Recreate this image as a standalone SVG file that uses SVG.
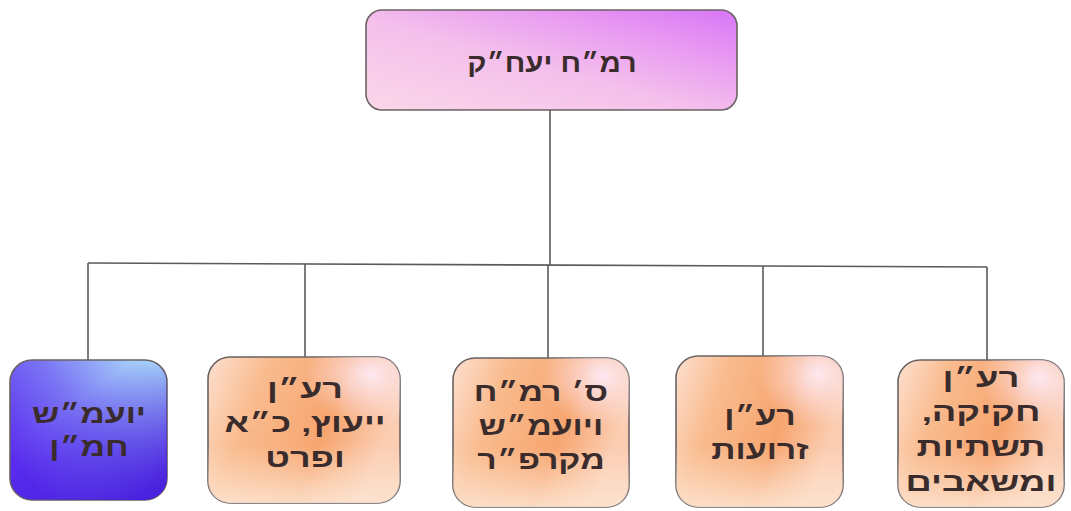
<svg xmlns="http://www.w3.org/2000/svg" width="1071" height="511" viewBox="0 0 1071 511">
<style>
.box{stroke:#6a6262;stroke-width:1.6}
.ov{stroke:none}
.t{font-family:"Liberation Sans","DejaVu Sans",sans-serif;font-size:26px;font-weight:bold;fill:#3a2c2c;text-anchor:middle;direction:rtl}
.c{stroke:#5a5a5a;stroke-width:1.6;fill:none}
</style>
<defs>
<linearGradient id="gTop" x1="0" y1="1" x2="1" y2="0">
<stop offset="0" stop-color="#fbd6e8"/>
<stop offset="0.45" stop-color="#f4c0ec"/>
<stop offset="0.75" stop-color="#e898f2"/>
<stop offset="1" stop-color="#d775f7"/>
</linearGradient>
<linearGradient id="gBlue" x1="0" y1="0.7" x2="1" y2="0">
<stop offset="0" stop-color="#5a2cef"/>
<stop offset="0.45" stop-color="#7a74f4"/>
<stop offset="1" stop-color="#b4f0fa"/>
</linearGradient>
<linearGradient id="gBlueDark" x1="0.3" y1="0.4" x2="0.8" y2="1">
<stop offset="0" stop-color="#4820e0" stop-opacity="0"/>
<stop offset="1" stop-color="#4418dc" stop-opacity="0.9"/>
</linearGradient>
<linearGradient id="gOr" x1="0" y1="0" x2="1" y2="0.3">
<stop offset="0" stop-color="#fde0d0"/>
<stop offset="0.3" stop-color="#f9bb8e"/>
<stop offset="0.7" stop-color="#f7a56f"/>
<stop offset="1" stop-color="#fbcdb2"/>
</linearGradient>
<radialGradient id="gHi" cx="0.85" cy="0.12" r="0.35">
<stop offset="0" stop-color="#fde8f0" stop-opacity="1"/>
<stop offset="1" stop-color="#fde8f0" stop-opacity="0"/>
</radialGradient>
<linearGradient id="gBot" x1="0" y1="0" x2="0" y2="1">
<stop offset="0.6" stop-color="#fde6d4" stop-opacity="0"/>
<stop offset="1" stop-color="#fde6d4" stop-opacity="0.85"/>
</linearGradient>
</defs>

<g id="connectors">
<line class="c" x1="550" y1="110" x2="550" y2="265"/>
<line class="c" x1="88" y1="263" x2="987" y2="267"/>
<line class="c" x1="88" y1="263" x2="88" y2="360"/>
<line class="c" x1="305" y1="264" x2="305" y2="357"/>
<line class="c" x1="548" y1="265" x2="548" y2="358"/>
<line class="c" x1="763" y1="266" x2="763" y2="356"/>
<line class="c" x1="987" y1="267" x2="987" y2="360"/>
</g>

<g id="node-top">
<rect class="box" x="366" y="10" width="371" height="100" rx="16" fill="url(#gTop)" stroke="#85687c"/>
<text class="t" transform="translate(552 72) scale(1.13 1)" font-size="27">רמ״ח יעח״ק</text>
</g>

<g id="node-1">
<rect class="box" x="10" y="360" width="157" height="140" rx="22" fill="url(#gBlue)"/>
<rect class="ov" x="10" y="360" width="157" height="140" rx="22" fill="url(#gBlueDark)"/>
<text class="t" transform="translate(89 423) scale(1.3 1)">יועמ״ש</text>
<text class="t" transform="translate(89 456) scale(1.3 1)">חמ״ן</text>
</g>

<g id="node-2">
<rect class="box" x="208" y="357" width="192" height="146" rx="22" fill="url(#gOr)"/>
<rect class="ov" x="208" y="357" width="192" height="146" rx="22" fill="url(#gHi)"/>
<rect class="ov" x="208" y="357" width="192" height="146" rx="22" fill="url(#gBot)"/>
<text class="t" transform="translate(305 398) scale(1.38 1)">רע״ן</text>
<text class="t" transform="translate(305 432) scale(1.38 1)">ייעוץ, כ״א</text>
<text class="t" transform="translate(305 467) scale(1.38 1)">ופרט</text>
</g>

<g id="node-3">
<rect class="box" x="453" y="358" width="176" height="149" rx="22" fill="url(#gOr)"/>
<rect class="ov" x="453" y="358" width="176" height="149" rx="22" fill="url(#gHi)"/>
<rect class="ov" x="453" y="358" width="176" height="149" rx="22" fill="url(#gBot)"/>
<text class="t" transform="translate(541 401) scale(1.3 1)">ס׳ רמ״ח</text>
<text class="t" transform="translate(541 435) scale(1.3 1)">ויועמ״ש</text>
<text class="t" transform="translate(541 469) scale(1.3 1)">מקרפ״ר</text>
</g>

<g id="node-4">
<rect class="box" x="676" y="356" width="167" height="151" rx="22" fill="url(#gOr)"/>
<rect class="ov" x="676" y="356" width="167" height="151" rx="22" fill="url(#gHi)"/>
<rect class="ov" x="676" y="356" width="167" height="151" rx="22" fill="url(#gBot)"/>
<text class="t" transform="translate(760 425) scale(1.3 1)">רע״ן</text>
<text class="t" transform="translate(760 459) scale(1.3 1)">זרועות</text>
</g>

<g id="node-5">
<rect class="box" x="898" y="360" width="166" height="147" rx="22" fill="url(#gOr)"/>
<rect class="ov" x="898" y="360" width="166" height="147" rx="22" fill="url(#gHi)"/>
<rect class="ov" x="898" y="360" width="166" height="147" rx="22" fill="url(#gBot)"/>
<text class="t" transform="translate(981 387) scale(1.4 1)">רע״ן</text>
<text class="t" transform="translate(981 421) scale(1.4 1)">חקיקה,</text>
<text class="t" transform="translate(981 456) scale(1.4 1)">תשתיות</text>
<text class="t" transform="translate(981 491) scale(1.4 1)">ומשאבים</text>
</g>
</svg>
